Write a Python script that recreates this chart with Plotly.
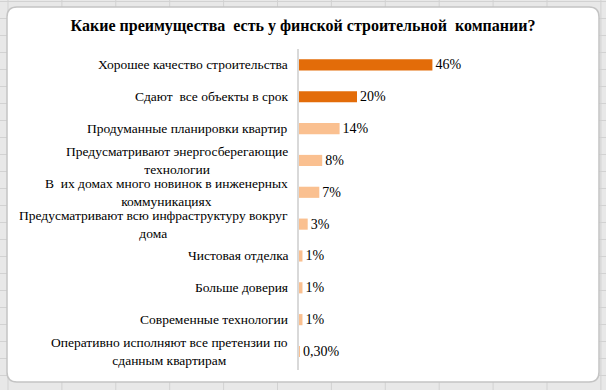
import plotly.graph_objects as go

categories = [
    "Хорошее качество строительства",
    "Сдают  все объекты в срок",
    "Продуманные планировки квартир",
    "Предусматривают энергосберегающие<br>технологии",
    "В  их домах много новинок в инженерных<br>коммуникациях",
    "Предусматривают всю инфраструктуру вокруг<br>дома",
    "Чистовая отделка",
    "Больше доверия",
    "Современные технологии",
    "Оперативно исполняют все претензии по<br>сданным квартирам",
]
values = [46, 20, 14, 8, 7, 3, 1.2, 1.2, 1.2, 0.3]
value_labels = ["46%", "20%", "14%", "8%", "7%", "3%", "1%", "1%", "1%", "0,30%"]
title_text = "Какие преимущества  есть у финской строительной  компании?"

DARK = "#E36C09"
LIGHT = "#FAC090"
bar_colors = [DARK if i < 2 else LIGHT for i in range(len(values))]

W, H = 606, 390
ML, MR, MT, MB = 299, 17, 49, 20
PW, PH = W - ML - MR, H - MT - MB
FONT = "'Liberation Serif', 'Times New Roman', serif"

def px(x):
    return (x - ML) / PW

def py(y):
    return 1 - (y - MT) / PH

fig = go.Figure()
fig.add_trace(go.Bar(
    x=values, y=categories, orientation="h",
    marker=dict(color=bar_colors, line=dict(width=0)),
    width=0.35,
    text=value_labels, textposition="outside", constraintext="none",
    textfont=dict(family=FONT, size=14, color="#000000"),
    cliponaxis=False, hoverinfo="skip",
))

for c in categories:
    fig.add_annotation(
        x=0, xref="paper", y=c, yref="y",
        text=c, showarrow=False, xanchor="right", yanchor="middle",
        align="center", xshift=-9,
        font=dict(family=FONT, size=13.5, color="#000000"),
    )

# spreadsheet cell grid behind the chart
GRID = "#d2d2d2"
gx = 8
while gx < W:
    fig.add_shape(type="line", xref="paper", yref="paper",
                  x0=px(gx), x1=px(gx), y0=py(0), y1=py(H),
                  line=dict(color=GRID, width=1), layer="below")
    gx += 53.9
gy = 1.5
while gy < H:
    fig.add_shape(type="line", xref="paper", yref="paper",
                  x0=px(0), x1=px(W), y0=py(gy), y1=py(gy),
                  line=dict(color=GRID, width=1), layer="below")
    gy += 17

# chart frame (rounded rectangle)
x0, x1, y0, y1, r = 7, 599, 7, 382, 10
path = (
    f"M {px(x0 + r)} {py(y0)} L {px(x1 - r)} {py(y0)} "
    f"Q {px(x1)} {py(y0)} {px(x1)} {py(y0 + r)} "
    f"L {px(x1)} {py(y1 - r)} Q {px(x1)} {py(y1)} {px(x1 - r)} {py(y1)} "
    f"L {px(x0 + r)} {py(y1)} Q {px(x0)} {py(y1)} {px(x0)} {py(y1 - r)} "
    f"L {px(x0)} {py(y0 + r)} Q {px(x0)} {py(y0)} {px(x0 + r)} {py(y0)} Z"
)
fig.add_shape(type="path", path=path, xref="paper", yref="paper",
              fillcolor="#ffffff", line=dict(color="#c4c4c4", width=1.5),
              layer="below")

fig.update_layout(
    width=W, height=H,
    margin=dict(l=ML, r=MR, t=MT, b=MB),
    paper_bgcolor="#e8e8e8", plot_bgcolor="rgba(0,0,0,0)",
    showlegend=False,
    title=dict(text="<b>" + title_text + "</b>", x=0.5, xanchor="center",
               y=1 - 25 / H, yanchor="middle",
               font=dict(family=FONT, size=16, color="#000000")),
    xaxis=dict(range=[0, 100], visible=False, fixedrange=True),
    yaxis=dict(autorange="reversed", showticklabels=False, ticks="",
               showgrid=False, zeroline=False, showline=True,
               linecolor="#d9d9d9", linewidth=1.5, fixedrange=True),
    bargap=0.65,
)

fig.write_html(
    "out.html",
    config={"displayModeBar": False},
    post_script="document.body.style.margin='0';document.body.style.overflow='hidden';document.body.style.background='#e8e8e8';",
)
